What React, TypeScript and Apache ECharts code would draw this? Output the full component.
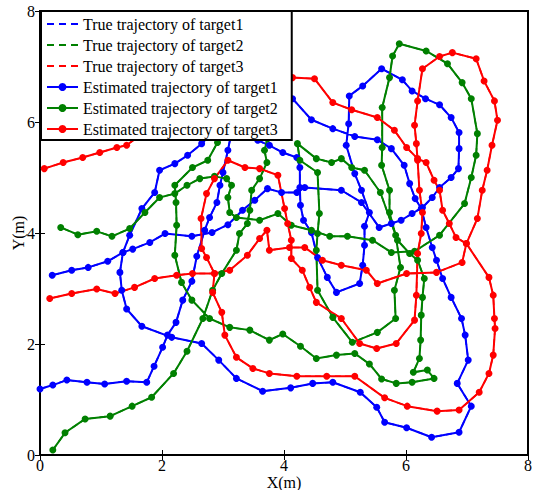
import React, { useEffect, useRef } from "react";
import * as echarts from "echarts";

const xTicks = [0, 2, 4, 6, 8];
const yTicks = [0, 2, 4, 6, 8];

const seriesNames = [
  "True trajectory of target1",
  "True trajectory of target2",
  "True trajectory of target3",
  "Estimated trajectory of target1",
  "Estimated trajectory of target2",
  "Estimated trajectory of target3",
];

const colors = ["#0000ff", "#008000", "#ff0000"];

const blueEst = [
  [0.0, 1.19], [0.21, 1.26], [0.44, 1.35], [0.77, 1.31], [1.06, 1.28], [1.42, 1.33], [1.75, 1.31], [1.87, 1.6],
  [2.01, 1.94], [2.09, 2.16], [2.23, 2.39], [2.34, 2.79], [2.49, 3.13], [2.57, 3.58], [2.7, 4.05], [2.78, 4.28],
  [2.9, 4.55], [2.95, 4.86], [3.0, 5.09], [3.08, 5.49], [3.13, 5.76], [3.44, 6.24], [3.85, 6.46],
  [4.14, 6.42], [4.45, 6.04], [4.8, 5.88], [5.16, 5.74], [5.53, 5.68], [5.76, 5.52], [5.97, 5.22], [6.06, 4.89],
  [6.15, 4.62], [6.25, 4.44], [6.33, 4.1], [6.43, 3.74], [6.5, 3.51], [6.6, 3.18], [6.74, 2.84], [6.91, 2.46],
  [6.97, 2.16], [7.02, 1.71], [6.84, 1.29], [7.07, 0.88], [6.87, 0.41], [6.42, 0.32], [6.01, 0.49], [5.65, 0.59],
  [5.52, 0.86], [5.25, 1.13], [4.8, 1.31], [4.47, 1.29], [4.11, 1.21], [3.65, 1.15], [3.22, 1.38], [2.93, 1.71],
  [2.65, 2.01], [2.16, 2.12], [1.67, 2.32], [1.42, 2.63], [1.34, 2.97], [1.31, 3.29], [1.36, 3.65], [1.47, 3.96],
  [1.67, 4.44], [1.88, 4.73], [1.96, 5.13], [2.21, 5.25], [2.42, 5.4], [2.65, 5.61], [2.95, 5.94], [3.36, 5.88],
  [3.57, 5.67], [3.76, 5.58], [3.98, 5.45], [4.21, 5.36], [4.26, 5.18], [4.26, 4.82], [4.27, 4.5], [4.32, 4.23],
  [4.45, 4.01], [4.55, 3.56], [4.71, 3.2], [4.86, 2.93], [5.24, 3.09], [5.29, 3.42], [5.32, 3.78], [5.32, 4.12],
  [5.4, 4.37], [5.27, 4.77], [5.16, 5.07], [5.02, 5.58], [5.06, 5.97], [5.07, 6.47], [5.29, 6.65], [5.6, 6.96],
  [5.94, 6.76], [6.1, 6.56], [6.32, 6.42], [6.55, 6.31], [6.74, 6.08], [6.87, 5.81], [6.87, 5.52], [6.86, 5.16],
  [6.74, 5.0], [6.55, 4.82], [6.43, 4.64], [6.27, 4.46], [6.1, 4.35], [5.92, 4.23], [5.76, 4.17], [5.56, 4.1],
  [5.27, 4.55], [4.94, 4.77], [4.34, 4.82], [4.21, 4.73], [3.96, 4.73], [3.73, 4.8], [3.52, 4.59], [3.32, 4.41],
  [3.08, 4.15], [2.82, 4.01], [2.49, 3.94], [2.05, 3.99], [1.8, 3.83], [1.52, 3.71], [1.36, 3.65], [1.11, 3.49],
  [0.79, 3.38], [0.52, 3.33], [0.2, 3.24],
];

const greenEst = [
  [0.21, 0.09], [0.41, 0.4], [0.74, 0.65], [1.15, 0.7], [1.51, 0.88], [1.83, 1.04], [2.19, 1.47], [2.41, 1.87],
  [2.67, 2.46], [2.83, 2.97], [2.98, 3.27], [3.22, 3.69], [3.27, 3.99], [3.4, 4.17], [3.44, 4.41], [3.47, 4.77],
  [3.6, 4.98], [3.72, 5.27], [3.68, 5.49], [3.73, 5.7], [3.63, 6.21], [3.03, 6.21],
  [2.91, 5.63], [2.75, 5.31], [2.5, 5.18], [2.21, 4.86], [2.23, 4.55], [2.24, 4.14], [2.21, 3.6], [2.32, 3.11],
  [2.49, 2.79], [2.78, 2.46], [3.11, 2.3], [3.44, 2.25], [3.76, 2.07], [3.98, 2.18], [4.27, 1.96], [4.53, 1.74],
  [4.86, 1.8], [5.16, 1.83], [5.4, 1.64], [5.6, 1.37], [5.84, 1.29], [6.1, 1.31], [6.46, 1.38], [6.35, 1.53],
  [6.12, 1.49], [6.22, 1.74], [6.24, 2.07], [6.25, 2.52], [6.27, 2.84], [6.3, 3.18], [6.19, 3.51], [6.06, 3.63],
  [5.86, 3.87], [5.58, 4.73], [5.32, 5.13], [5.11, 5.18], [4.94, 5.34], [4.78, 5.27], [4.53, 5.34], [4.22, 5.61],
  [4.26, 5.31], [4.55, 5.09], [4.58, 4.35], [4.55, 3.99], [4.53, 3.69], [4.55, 2.97], [4.8, 2.48], [5.12, 2.03],
  [5.53, 2.21], [5.83, 2.46], [5.81, 2.97], [5.91, 3.38], [5.83, 3.96], [5.73, 4.37], [5.73, 4.77], [5.6, 5.22],
  [5.61, 5.54], [5.61, 6.26], [5.73, 6.8], [5.78, 7.19], [5.89, 7.41], [6.33, 7.28], [6.68, 7.05], [6.92, 6.71],
  [7.07, 6.42], [7.17, 5.79], [7.15, 5.4], [7.07, 5.0], [6.96, 4.53], [6.55, 3.96], [6.14, 3.67], [5.76, 3.65],
  [5.45, 3.87], [5.04, 3.94], [4.75, 3.94], [4.45, 4.05], [4.12, 4.14], [3.9, 4.35], [3.6, 4.23], [3.22, 4.28],
  [3.11, 4.37], [3.08, 4.64], [3.14, 4.86], [3.06, 4.98], [2.86, 5.02], [2.62, 4.98], [2.41, 4.86], [2.21, 4.71],
  [1.96, 4.64], [1.72, 4.37], [1.47, 4.08], [1.18, 3.94], [0.93, 4.03], [0.62, 3.97], [0.34, 4.1],
];

const redEst = [
  [0.07, 5.16], [0.38, 5.27], [0.7, 5.36], [0.98, 5.45], [1.26, 5.54], [1.42, 5.58], [1.64, 5.76], [2.62, 6.38],
  [3.76, 6.74], [4.14, 6.8], [4.5, 6.78], [4.8, 6.35], [5.11, 6.22], [5.53, 6.08], [5.81, 5.85], [6.01, 5.54],
  [6.19, 5.34], [6.33, 5.27], [6.46, 4.95], [6.55, 4.77], [6.6, 4.41], [6.71, 4.17], [6.82, 3.92], [6.99, 3.81],
  [7.36, 3.2], [7.43, 2.88], [7.45, 2.46], [7.46, 2.28], [7.43, 1.8], [7.36, 1.47], [7.2, 1.13], [6.87, 0.81],
  [6.51, 0.79], [6.02, 0.88], [5.65, 1.03], [5.16, 1.42], [4.7, 1.42], [4.21, 1.42], [3.76, 1.47], [3.49, 1.56],
  [3.22, 1.76], [3.03, 2.16], [2.98, 2.57], [2.83, 2.93], [2.86, 3.27], [2.73, 3.56], [2.65, 3.72], [2.64, 4.26],
  [2.73, 4.71], [2.86, 4.98], [3.08, 5.31], [3.36, 5.18], [3.6, 5.16], [3.9, 5.04], [4.01, 4.44], [4.06, 4.17],
  [4.12, 3.87], [4.12, 3.54], [4.3, 3.33], [4.42, 3.02], [4.53, 2.75], [4.94, 2.46], [5.24, 2.01], [5.52, 1.92],
  [5.84, 2.01], [6.14, 2.43], [6.17, 2.88], [6.19, 3.63], [6.25, 3.99], [6.27, 4.37], [6.22, 4.77], [6.19, 5.31],
  [6.17, 5.61], [6.14, 5.94], [6.19, 6.38], [6.27, 6.96], [6.55, 7.18], [6.76, 7.25], [7.15, 7.14], [7.28, 6.74],
  [7.45, 6.38], [7.5, 6.03], [7.41, 5.58], [7.33, 5.13], [7.25, 4.77], [7.17, 4.26], [6.99, 3.81], [6.92, 3.47],
  [6.5, 3.29], [6.01, 3.27], [5.53, 3.09], [5.35, 3.33], [4.94, 3.42], [4.63, 3.51], [4.34, 3.74], [4.09, 3.74],
  [3.76, 3.69], [3.72, 4.05], [3.6, 3.9], [3.4, 3.6], [3.11, 3.33], [2.86, 3.27], [2.5, 3.27], [2.24, 3.24],
  [1.88, 3.18], [1.55, 3.02], [1.23, 2.91], [0.93, 2.99], [0.52, 2.91], [0.16, 2.82],
];

const blueTrue = blueEst;
const greenTrue = greenEst;
const redTrue = redEst;

const FONT = "Liberation Serif, Times New Roman, DejaVu Serif, serif";

export default function App() {
  const ref = useRef<HTMLDivElement>(null);
  useEffect(() => {
    if (!ref.current) return;
    const chart = echarts.init(ref.current, undefined, { renderer: "svg" });
    const trueData = [blueTrue, greenTrue, redTrue];
    const estData = [blueEst, greenEst, redEst];
    const series: any[] = [];
    for (let i = 0; i < 3; i++) {
      series.push({
        name: seriesNames[i],
        type: "line",
        data: trueData[i],
        symbol: "none",
        z: 2,
        lineStyle: { color: colors[i], width: 1.6, type: [6, 4] },
        itemStyle: { color: colors[i] },
      });
    }
    for (let i = 0; i < 3; i++) {
      series.push({
        name: seriesNames[i + 3],
        type: "line",
        data: estData[i],
        symbol: "circle",
        symbolSize: 7,
        z: 3,
        lineStyle: { color: colors[i], width: 2 },
        itemStyle: { color: colors[i] },
      });
    }
    const axisCommon = {
      type: "value",
      min: 0,
      max: 8,
      interval: 2,
      splitLine: { show: false },
    };
    const legendData = seriesNames.map((name, i) =>
      i < 3 ? { name, itemStyle: { opacity: 0 }, lineStyle: { type: [7, 5], width: 2 } } : { name }
    );
    chart.setOption({
      animation: false,
      backgroundColor: "#fff",
      grid: {
        left: 40,
        right: 10,
        top: 11,
        bottom: 35,
        show: true,
        borderColor: "#000",
        borderWidth: 2,
        containLabel: false,
        outerBoundsMode: "none",
      },
      legend: {
        data: legendData,
        orient: "vertical",
        left: 41,
        top: 11,
        padding: [5, 14, 3, 5],
        itemGap: 5,
        itemWidth: 31,
        itemHeight: 10,
        backgroundColor: "#fff",
        borderColor: "#000",
        borderWidth: 2,
        selectedMode: false,
        textStyle: { fontFamily: FONT, fontSize: 16, color: "#000", lineHeight: 16 },
      },
      xAxis: [
        {
          ...axisCommon,
          position: "bottom",
          name: "X(m)",
          nameLocation: "middle",
          nameGap: 19,
          nameMoveOverlap: false,
          nameTextStyle: { fontFamily: FONT, fontSize: 16, color: "#000" },
          axisLine: { show: false },
          axisTick: { inside: true, length: 5, lineStyle: { color: "#000", width: 1 } },
          axisLabel: { fontFamily: FONT, fontSize: 16, color: "#000", margin: 2, customValues: xTicks },
        },
        {
          ...axisCommon,
          position: "top",
          axisLine: { show: false },
          axisTick: { inside: true, length: 5, lineStyle: { color: "#000", width: 1 } },
          axisLabel: { show: false },
        },
      ],
      yAxis: [
        {
          ...axisCommon,
          position: "left",
          name: "Y(m)",
          nameLocation: "middle",
          nameGap: 14,
          nameMoveOverlap: false,
          nameTextStyle: { fontFamily: FONT, fontSize: 16, color: "#000" },
          axisLine: { show: false },
          axisTick: { inside: true, length: 5, lineStyle: { color: "#000", width: 1 } },
          axisLabel: { fontFamily: FONT, fontSize: 16, color: "#000", margin: 5, customValues: yTicks },
        },
        {
          ...axisCommon,
          position: "right",
          axisLine: { show: false },
          axisTick: { inside: true, length: 5, lineStyle: { color: "#000", width: 1 } },
          axisLabel: { show: false },
        },
      ],
      series,
    });
    return () => chart.dispose();
  }, []);
  return <div ref={ref} style={{ position: "absolute", left: 0, top: 0, width: 538, height: 490 }} />;
}
